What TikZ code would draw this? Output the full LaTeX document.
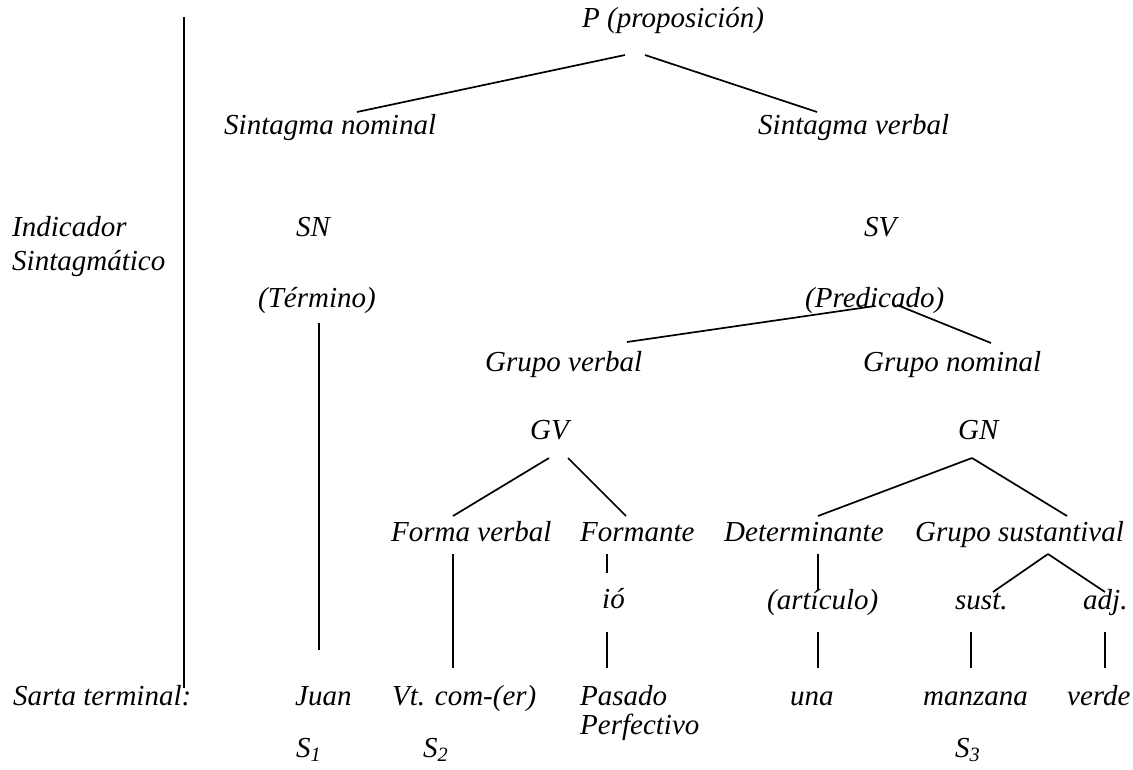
\documentclass[tikz,border=0pt]{standalone}
\usepackage{fontspec}
\setmainfont{Liberation Serif}
\begin{document}
\begin{tikzpicture}[x=1pt,y=-1pt,
  lbl/.style={anchor=base west,inner sep=0pt,font=\itshape\fontsize{29}{34}\selectfont},
  branch/.style={line width=1.7pt}]
\useasboundingbox (0,0) rectangle (1133,770);

% ---- labels on the left
\node[lbl] (ind)   at (12,237) {Indicador};
\node[lbl] (sint)  at (12,270) {Sintagmático};
\node[lbl] (sarta) at (13,705) {Sarta terminal:};

% ---- tree labels
\node[lbl] (P)      at (582,28)  {P (proposición)};
\node[lbl] (snom)   at (224,135) {Sintagma nominal};
\node[lbl] (sverb)  at (758,135) {Sintagma verbal};
\node[lbl] (SN)     at (296,237) {SN};
\node[lbl] (SV)     at (864,237) {SV};
\node[lbl] (term)   at (258,308) {(Término)};
\node[lbl] (pred)   at (805,308) {(Predicado)};
\node[lbl] (gverb)  at (485,371) {Grupo verbal};
\node[lbl] (gnom)   at (863,371) {Grupo nominal};
\node[lbl] (GV)     at (530,439) {GV};
\node[lbl] (GN)     at (958,439) {GN};
\node[lbl] (fverb)  at (391,541) {Forma verbal};
\node[lbl] (form)   at (580,541) {Formante};
\node[lbl] (det)    at (724,541) {Determinante};
\node[lbl] (gsust)  at (915,541) {Grupo sustantival};
\node[lbl] (io)     at (602,608) {ió};
\node[lbl] (art)    at (767,609) {(artículo)};
\node[lbl] (sust)   at (955,609) {sust.};
\node[lbl] (adj)    at (1083,609) {adj.};

% ---- terminal string
\node[lbl] (juan)   at (295,705) {Juan};
\node[lbl] (vt)     at (392,705) {Vt. com-(er)};
\node[lbl] (pas1)   at (580,705) {Pasado};
\node[lbl] (pas2)   at (580,734) {Perfectivo};
\node[lbl] (una)    at (790,705) {una};
\node[lbl] (manz)   at (923,705) {manzana};
\node[lbl] (verde)  at (1067,705) {verde};
\node[lbl] (s1)     at (296,757) {S\textsubscript{1}};
\node[lbl] (s2)     at (423,757) {S\textsubscript{2}};
\node[lbl] (s3)     at (955,757) {S\textsubscript{3}};

% ---- branch end points
\coordinate (rule-top) at (184,17);
\coordinate (rule-bot) at (184,688);
\coordinate (P-l)     at (625,55);
\coordinate (P-r)     at (645,55);
\coordinate (snom-t)  at (357,112);
\coordinate (sverb-t) at (817,112);
\coordinate (term-b)  at (319,323);
\coordinate (juan-t)  at (319,650);
\coordinate (pred-l)  at (875,306);
\coordinate (pred-r)  at (897,305);
\coordinate (gverb-t) at (627,342);
\coordinate (gnom-t)  at (991,343);
\coordinate (GV-l)    at (549,458);
\coordinate (GV-r)    at (568,458);
\coordinate (fverb-t) at (453,516);
\coordinate (form-t)  at (626,516);
\coordinate (GN-b)    at (972,458);
\coordinate (det-t)   at (818,516);
\coordinate (gsust-t) at (1067,516);
\coordinate (fverb-b) at (453,554);
\coordinate (vt-t)    at (453,668);
\coordinate (form-b)  at (607,554);
\coordinate (io-t)    at (607,573);
\coordinate (io-b)    at (607,632);
\coordinate (pas-t)   at (607,668);
\coordinate (det-b)   at (818,554);
\coordinate (art-t)   at (818,590);
\coordinate (gsust-b) at (1048,554);
\coordinate (sust-t)  at (993,592);
\coordinate (adj-t)   at (1105,592);
\coordinate (art-b)   at (818,632);
\coordinate (una-t)   at (818,668);
\coordinate (sust-b)  at (971,632);
\coordinate (manz-t)  at (971,668);
\coordinate (adj-b)   at (1105,632);
\coordinate (verde-t) at (1105,668);

% ---- branches
\draw[branch] (rule-top) -- (rule-bot);
\draw[branch] (P-l) -- (snom-t);
\draw[branch] (P-r) -- (sverb-t);
\draw[branch] (term-b) -- (juan-t);
\draw[branch] (pred-l) -- (gverb-t);
\draw[branch] (pred-r) -- (gnom-t);
\draw[branch] (GV-l) -- (fverb-t);
\draw[branch] (GV-r) -- (form-t);
\draw[branch] (GN-b) -- (det-t);
\draw[branch] (GN-b) -- (gsust-t);
\draw[branch] (fverb-b) -- (vt-t);
\draw[branch] (form-b) -- (io-t);
\draw[branch] (io-b) -- (pas-t);
\draw[branch] (det-b) -- (art-t);
\draw[branch] (gsust-b) -- (sust-t);
\draw[branch] (gsust-b) -- (adj-t);
\draw[branch] (art-b) -- (una-t);
\draw[branch] (sust-b) -- (manz-t);
\draw[branch] (adj-b) -- (verde-t);
\end{tikzpicture}
\end{document}
